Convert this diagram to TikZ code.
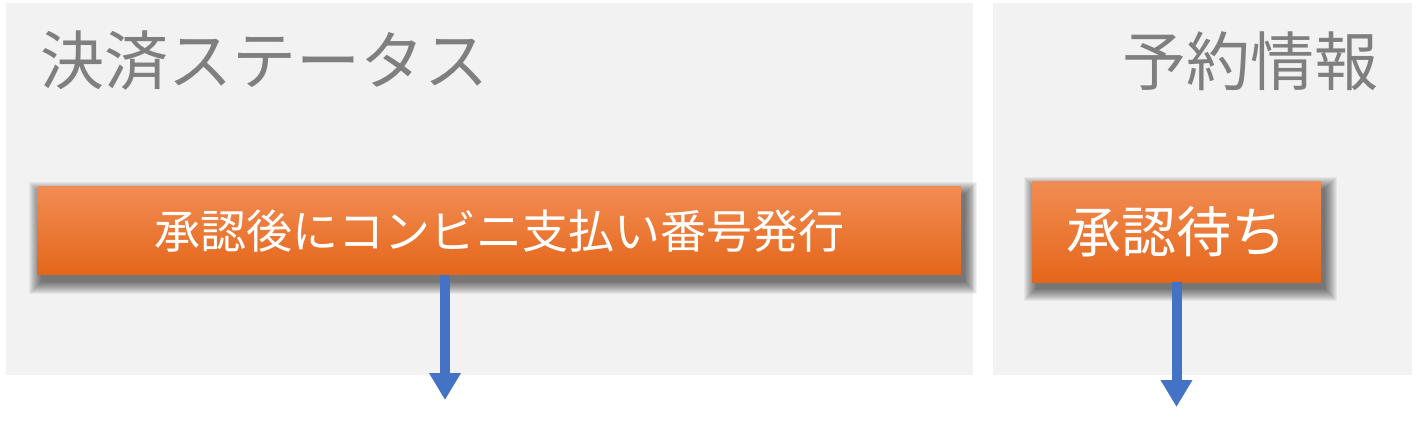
\documentclass[tikz,border=0pt]{standalone}
\usepackage{fontspec}
\newfontfamily\jpfont{Noto Sans CJK JP}
\usepackage{xcolor}
\usetikzlibrary{arrows.meta}

\definecolor{panelgray}{HTML}{F2F2F2}
\definecolor{titlegray}{HTML}{7F7F7F}
\definecolor{orangetop}{HTML}{F28C52}
\definecolor{orangemid}{HTML}{F47C28}
\definecolor{orangebot}{HTML}{E4661A}
\definecolor{arrowblue}{HTML}{4472C4}

\pgfdeclarelayer{back}
\pgfdeclarelayer{shade}
\pgfsetlayers{back,shade,main}

\begin{document}
\begin{tikzpicture}[x=1pt,y=-1pt,
  panel/.style={fill=panelgray,inner sep=0pt,anchor=north west},
  paneltitle/.style={text=titlegray,font=\jpfont\fontsize{64}{64}\selectfont,inner sep=0pt},
  statebox/.style={shading=axis,top color=orangetop,middle color=orangemid,bottom color=orangebot,
    text=white,inner sep=0pt},
  softshade/.style={fill=black,fill opacity=0.052},
  flow/.style={draw=arrowblue,line width=10pt,-{Triangle[length=27pt,width=30pt]}}]

\useasboundingbox (0,0) rectangle (1418,438);

% panels
\begin{pgfonlayer}{back}
\node[panel,minimum width=967pt,minimum height=372pt] (StatusPanel) at (6,3) {};
\node[panel,minimum width=419pt,minimum height=372pt] (BookingPanel) at (993,3) {};
\end{pgfonlayer}

\node[paneltitle,anchor=west] (StatusTitle) at (40,61) {\jpfont 決済ステータス};
\node[paneltitle,anchor=east] (BookingTitle) at (1379,61) {\jpfont 予約情報};

% 1
\node[statebox,minimum width=924pt,minimum height=88pt,font=\jpfont\fontsize{46}{46}\selectfont] (StatusBox) at (499,231) {承認後にコンビニ支払い番号発行};

% 2
\node[statebox,minimum width=289pt,minimum height=100pt,font=\jpfont\fontsize{55}{55}\selectfont] (BookingBox) at (1176.5,232) {承認待ち};

% shadows
\begin{pgfonlayer}{shade}
\foreach \boxname in {StatusBox,BookingBox}
  \foreach \s in {0,...,12}
    \fill[softshade] ([shift={(4-\s,7-\s)}]\boxname.north west) rectangle ([shift={(4+\s,7+\s)}]\boxname.south east);
\end{pgfonlayer}

\coordinate (StatusNext) at (445,400);
\coordinate (BookingNext) at (1176.5,407);

\draw[flow] (StatusBox.south -| StatusNext) -- (StatusNext);
\draw[flow] (BookingBox.south) -- (BookingNext);

\end{tikzpicture}
\end{document}
